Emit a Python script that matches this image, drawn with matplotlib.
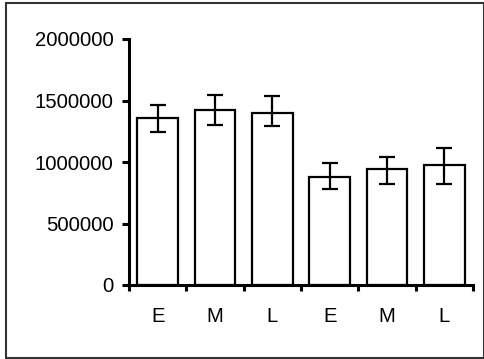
import matplotlib
matplotlib.use("Agg")
import matplotlib.pyplot as plt
from matplotlib.patches import Rectangle
import numpy as np

# Data
categories = ["E", "M", "L", "E", "M", "L"]
values = [1355000, 1420000, 1398000, 880000, 943000, 976000]
err_low = [109000, 122000, 109000, 102000, 122000, 157000]
err_high = [108000, 122000, 135000, 114000, 100000, 135000]
y_ticks = [0, 500000, 1000000, 1500000, 2000000]

plt.rcParams["font.family"] = ["Liberation Sans", "DejaVu Sans"]

fig = plt.figure(figsize=(4.85, 3.59), dpi=100)
ax = fig.add_axes([129 / 485, 1 - 285 / 359, (473 - 129) / 485, (285 - 39) / 359])

x = np.arange(len(categories)) + 0.5
ax.bar(x, values, width=0.71, color="white", edgecolor="black", linewidth=1.6, zorder=2)
ax.errorbar(x, values, yerr=[err_low, err_high], fmt="none", ecolor="black",
            elinewidth=1.6, capsize=5.8, capthick=1.6, zorder=3)

ax.set_xlim(0, len(categories))
ax.set_ylim(0, 2000000)
ax.set_yticks(y_ticks)
ax.set_yticklabels([str(v) for v in y_ticks], fontsize=14.6)

ax.set_xticks(x)
ax.set_xticklabels(categories, fontsize=14.6)
ax.set_xticks(np.arange(len(categories) + 1), minor=True)
ax.tick_params(axis="x", which="major", length=0, pad=16)
ax.tick_params(axis="x", which="minor", length=4.5, width=2.2, direction="out")
ax.tick_params(axis="y", which="major", length=5, width=2.2, direction="out", pad=6)

for side in ("top", "right"):
    ax.spines[side].set_visible(False)
for side in ("left", "bottom"):
    ax.spines[side].set_linewidth(2.2)
    ax.spines[side].set_zorder(4)

# Outer frame around the figure
fig.patches.append(Rectangle((6 / 485, 1 - 358 / 359), (484 - 6) / 485, (358 - 3) / 359,
                             transform=fig.transFigure, fill=False,
                             edgecolor="#333333", linewidth=1.5))

fig.savefig("out.png", dpi=100)
